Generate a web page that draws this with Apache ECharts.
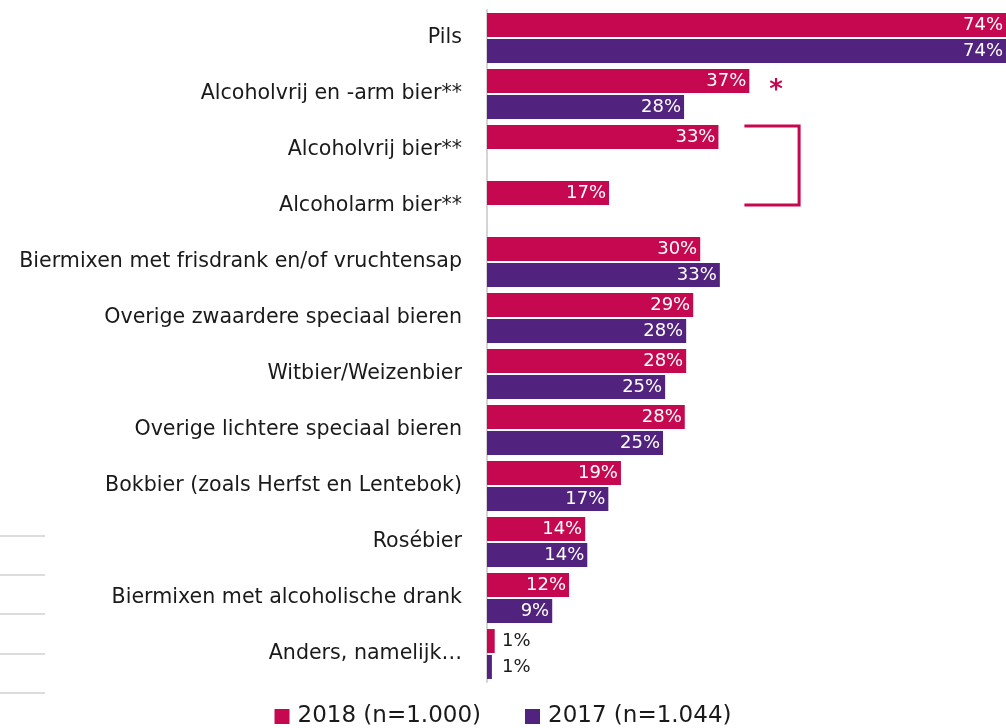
<!DOCTYPE html>
<html>
<head>
<meta charset="utf-8">
<script src="https://cdn.jsdelivr.net/npm/echarts@6/dist/echarts.min.js"></script>
<style>
  html, body { margin: 0; padding: 0; background: #fff; }
  #chart { width: 1006px; height: 728px; }
</style>
</head>
<body>
<div id="chart"></div>
<script>
const categories = [
  'Pils',
  'Alcoholvrij en -arm bier**',
  'Alcoholvrij bier**',
  'Alcoholarm bier**',
  'Biermixen met frisdrank en/of vruchtensap',
  'Overige zwaardere speciaal bieren',
  'Witbier/Weizenbier',
  'Overige lichtere speciaal bieren',
  'Bokbier (zoals Herfst en Lentebok)',
  'Rosébier',
  'Biermixen met alcoholische drank',
  'Anders, namelijk…'
];
// labels show the rounded percentage
const values2018 = [74, 37.4, 33.0, 17.4, 30.4, 29.4, 28.4, 28.2, 19.1, 14.0, 11.7, 1.1];
const values2017 = [74, 28.1, null, null, 33.2, 28.4, 25.4, 25.1, 17.3, 14.3, 9.3, 0.7];
const seriesNames = ['2018 (n=1.000)', '2017 (n=1.044)'];

const PINK = '#c5084f';
const PURPLE = '#52237e';
const FONT = 'DejaVu Sans';

const chart = echarts.init(document.getElementById('chart'));

// small bars get their label next to them in dark text
const toData = vals => vals.map(v => {
  if (v == null) return '-';
  if (v < 5) {
    return {
      value: v,
      label: { position: 'insideLeft', color: '#1a1a1a', distance: 15 }
    };
  }
  return v;
});

const barLabel = {
  show: true,
  position: 'insideRight',
  distance: 3,
  color: '#fff',
  fontFamily: FONT,
  fontSize: 18,
  formatter: p => Math.round(p.value) + '%'
};

chart.setOption({
  animation: false,
  textStyle: { fontFamily: FONT },
  grid: { left: 487, right: 0, top: 10, bottom: 46 },
  legend: {
    bottom: -5,
    left: 'center',
    itemWidth: 15,
    itemHeight: 15,
    itemGap: 44,
    icon: 'rect',
    textStyle: { fontSize: 23, color: '#1a1a1a', fontFamily: FONT, padding: [0, 0, 0, 3] },
    data: seriesNames
  },
  xAxis: {
    type: 'value',
    min: 0,
    max: 74,
    show: false
  },
  yAxis: {
    type: 'category',
    inverse: true,
    data: categories,
    axisLine: { lineStyle: { color: '#d4d4d4', width: 2 } },
    axisTick: { length: 5, lineStyle: { color: '#d4d4d4', width: 2 } },
    axisLabel: {
      color: '#1a1a1a',
      fontSize: 20.6,
      fontFamily: FONT,
      margin: 25
    }
  },
  series: [
    {
      name: seriesNames[0],
      type: 'bar',
      data: toData(values2018),
      barWidth: 24,
      barGap: '8%',
      itemStyle: { color: PINK },
      label: barLabel
    },
    {
      name: seriesNames[1],
      type: 'bar',
      data: toData(values2017),
      barWidth: 24,
      itemStyle: { color: PURPLE },
      label: barLabel
    }
  ]
});

// annotations: significance star and bracket, positioned from the axes
const slot = (idx) => chart.convertToPixel({ yAxisIndex: 0 }, idx) - 13;
const px = (v) => chart.convertToPixel({ xAxisIndex: 0 }, v);

const yTop = slot(2) - 11;
const yBot = slot(3) + 12;
const xL = px(36.7);
const xR = px(44.5);

const sideLines = [536, 575, 614, 654, 693].map(y => ({
  type: 'line',
  shape: { x1: 0, y1: y, x2: 45, y2: y },
  style: { stroke: '#dcdcdc', lineWidth: 2 }
}));

chart.setOption({
  graphic: [
    {
      type: 'polyline',
      shape: { points: [[xL, yTop], [xR, yTop], [xR, yBot], [xL, yBot]] },
      style: { stroke: PINK, lineWidth: 3, fill: null }
    },
    {
      type: 'text',
      x: px(41.2),
      y: slot(1) + 10,
      style: {
        text: '*',
        fill: PINK,
        font: 'bold 26px ' + FONT,
        align: 'center',
        verticalAlign: 'middle'
      }
    },
    ...sideLines
  ]
});
</script>
</body>
</html>
